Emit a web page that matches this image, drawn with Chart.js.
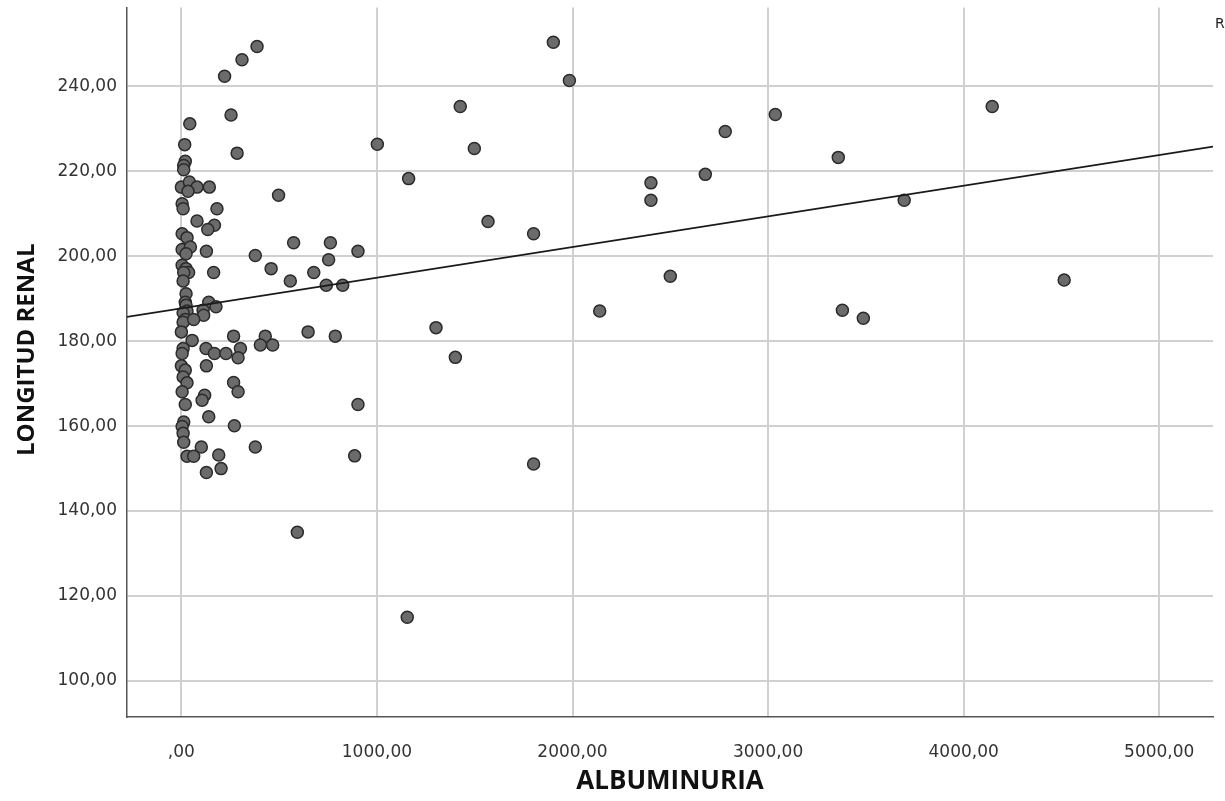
<!DOCTYPE html>
<html>
<head>
<meta charset="utf-8">
<script src="https://cdn.jsdelivr.net/npm/chart.js@4.4.1/dist/chart.umd.min.js"></script>
<style>
  html, body { margin: 0; padding: 0; background: #fff; }
  #wrap { width: 1225px; height: 801px; }
</style>
</head>
<body>
<div id="wrap"><canvas id="scatterChart" width="1225" height="801"></canvas></div>
<script>
// albuminuria (x) y longitud renal (y)
const albuminuria = [
  387, 310, 221, 254, 43, 17, 285, 20, 12, 12,
  0, 41, 80, 34, 143, 497, 4, 9, 182, 80,
  169, 135, 4, 29, 574, 4, 46, 24, 128, 378,
  459, 677, 4, 24, 37, 12, 9, 165, 557, 24,
  20, 24, 29, 9, 20, 9, 0, 140, 177, 111,
  114, 63, 55, 267, 429, 404, 467, 648, 9, 4,
  126, 169, 228, 302, 290, 0, 20, 9, 29, 128,
  267, 290, 4, 119, 106, 20, 140, 12, 4, 9,
  12, 271, 102, 378, 29, 63, 191, 128, 203, 593,
  1155, 1902, 1984, 1426, 4146, 3037, 2781, 1002, 1498, 3359,
  2679, 1162, 2401, 2401, 3696, 1568, 1801, 762, 903, 753,
  2500, 4514, 741, 825, 2139, 3380, 3487, 1302, 787, 1401,
  903, 886, 1801
];
const longitudRenal = [
  249.4, 246.3, 242.4, 233.3, 231.2, 226.3, 224.3, 222.4, 221.4, 220.4,
  216.3, 217.5, 216.3, 215.3, 216.3, 214.4, 212.4, 211.2, 211.2, 208.3,
  207.3, 206.3, 205.3, 204.4, 203.2, 201.6, 202.2, 200.6, 201.2, 200.2,
  197.1, 196.2, 197.9, 197.1, 196.2, 196.2, 194.2, 196.2, 194.2, 191.2,
  189.2, 188.5, 187.1, 186.7, 185.1, 184.5, 182.2, 189.2, 188.1, 187.3,
  186.1, 185.1, 180.2, 181.2, 181.2, 179.1, 179.1, 182.2, 178.3, 177.1,
  178.3, 177.1, 177.1, 178.3, 176.1, 174.2, 173.2, 171.6, 170.2, 174.2,
  170.3, 168.1, 168.1, 167.3, 166.1, 165.1, 162.2, 161.0, 159.9, 158.3,
  156.2, 160.1, 155.1, 155.1, 152.9, 152.9, 153.2, 149.1, 150.0, 135.0,
  115.0, 250.4, 241.4, 235.3, 235.3, 233.4, 229.4, 226.4, 225.4, 223.3,
  219.3, 218.3, 217.3, 213.2, 213.2, 208.2, 205.3, 203.2, 201.2, 199.2,
  195.3, 194.4, 193.2, 193.2, 187.1, 187.3, 185.4, 183.2, 181.2, 176.2,
  165.1, 153.0, 151.1
];

// recta de ajuste lineal
const ajusteIntercepto = 187.75;
const ajustePendiente = 0.00722;

const xTicks = [0, 1000, 2000, 3000, 4000, 5000];
const xTickLabels = [',00', '1000,00', '2000,00', '3000,00', '4000,00', '5000,00'];
const yTicks = [100, 120, 140, 160, 180, 200, 220, 240];
const yTickLabels = ['100,00', '120,00', '140,00', '160,00', '180,00', '200,00', '220,00', '240,00'];

const xMin = -278, xMax = 5275;
const yMin = 91.5, yMax = 258.6;

const puntos = albuminuria.map((a, i) => ({ x: a, y: longitudRenal[i] }));
const recta = [xMin, xMax].map(x => ({ x: x, y: ajusteIntercepto + ajustePendiente * x }));

const etiquetaR2 = {
  id: 'etiquetaR2',
  afterDraw(chart) {
    const ctx = chart.ctx;
    ctx.save();
    ctx.font = '14px "DejaVu Sans"';
    ctx.fillStyle = '#222';
    ctx.textBaseline = 'alphabetic';
    ctx.fillText('R² Lineal = 0,050', 1215, 28);
    ctx.restore();
  }
};

const ctx = document.getElementById('scatterChart').getContext('2d');
new Chart(ctx, {
  type: 'scatter',
  data: {
    datasets: [
      {
        type: 'line',
        data: recta,
        borderColor: '#1a1a1a',
        borderWidth: 1.6,
        pointRadius: 0,
        fill: false,
        order: 0
      },
      {
        data: puntos,
        backgroundColor: '#6b6b6b',
        borderColor: '#2b2b2b',
        borderWidth: 1.5,
        pointRadius: 6,
        pointHoverRadius: 6,
        order: 1
      }
    ]
  },
  options: {
    responsive: false,
    animation: false,
    devicePixelRatio: 1,
    layout: { padding: { top: 7, right: 12, bottom: 0, left: 0 } },
    plugins: { legend: { display: false }, tooltip: { enabled: false } },
    scales: {
      x: {
        type: 'linear',
        min: xMin,
        max: xMax,
        afterBuildTicks: s => { s.ticks = xTicks.map(v => ({ value: v })); },
        afterFit: s => { s.height = 84; s.paddingLeft = 0; s.paddingRight = 0; },
        grid: { color: '#d0d0d0', lineWidth: 2, drawTicks: false },
        border: { display: true, color: '#555', width: 1.5 },
        ticks: {
          padding: 25,
          color: '#333',
          font: { family: 'DejaVu Sans', size: 17 },
          maxRotation: 0,
          autoSkip: false,
          callback: v => xTickLabels[xTicks.indexOf(v)]
        },
        title: {
          display: true,
          text: 'ALBUMINURIA',
          color: '#111',
          font: { family: 'Open Sans', size: 26, weight: 'bold' },
          padding: { top: 0, bottom: 4 }
        }
      },
      y: {
        type: 'linear',
        min: yMin,
        max: yMax,
        afterBuildTicks: s => { s.ticks = yTicks.map(v => ({ value: v })); },
        afterFit: s => { s.width = 127; s.paddingTop = 0; s.paddingBottom = 0; },
        grid: { color: '#d0d0d0', lineWidth: 2, drawTicks: false },
        border: { display: true, color: '#555', width: 1.5 },
        ticks: {
          padding: 10,
          color: '#333',
          font: { family: 'DejaVu Sans', size: 17 },
          autoSkip: false,
          callback: v => yTickLabels[yTicks.indexOf(v)]
        },
        title: {
          display: true,
          text: '    LONGITUD RENAL',
          color: '#111',
          font: { family: 'Open Sans', size: 24, weight: 'bold' },
          padding: { top: 13, bottom: 0 }
        }
      }
    }
  },
  plugins: [etiquetaR2]
});
</script>
</body>
</html>
